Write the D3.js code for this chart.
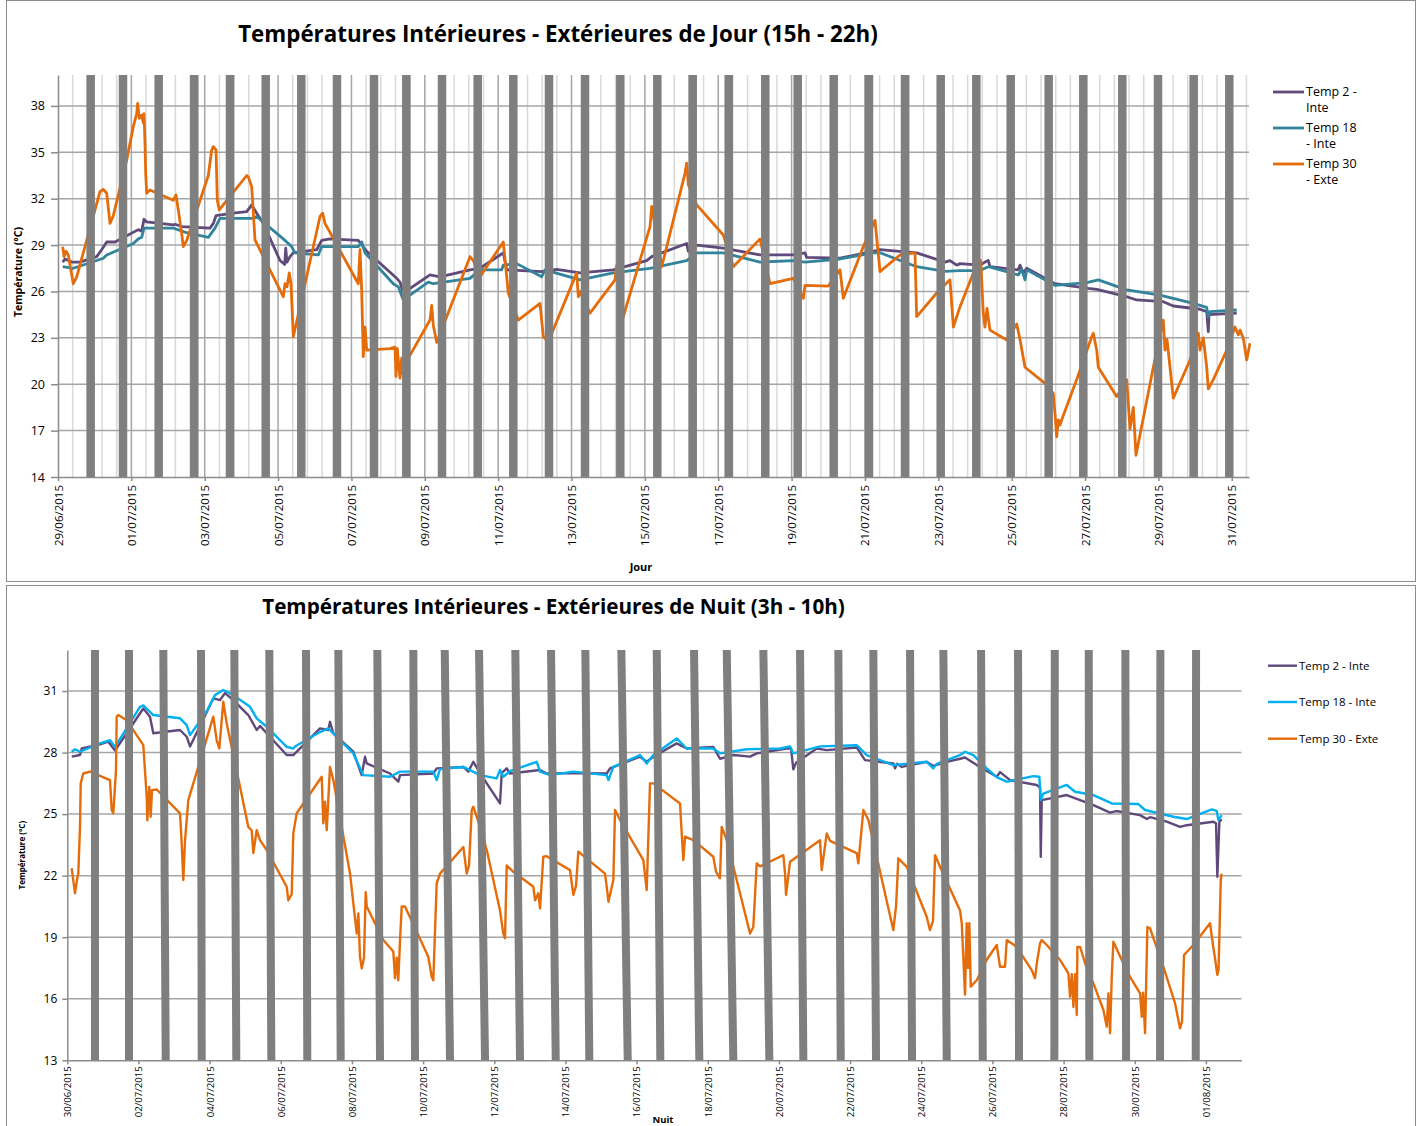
<!DOCTYPE html>
<html>
<head>
<meta charset="utf-8">
<script src="https://cdn.jsdelivr.net/npm/d3@7"></script>
<style>
  body { margin: 0; background: #fff; }
  svg { display: block; }
  text { font-family: "Open Sans", "Noto Sans", sans-serif; fill: #000; }
</style>
</head>
<body>
<svg id="chart" width="1421" height="1126"></svg>
<script>
// ---- data: [days since first date, °C] ----
// Jour (15h - 22h), days counted from 29/06/2015
const dayTemp2 = [[0.128,27.9],[0.19,28.1],[0.373,27.9],[0.6,27.9],[1.055,28.25],[1.19,28.7],[1.328,29.2],[1.554,29.2],[2.19,30.0],[2.28,29.9],[2.345,30.67],[2.418,30.5],[3.143,30.3],[3.19,30.35],[3.372,30.2],[4.144,30.1],[4.234,30.4],[4.308,30.9],[4.779,31.06],[5.145,31.16],[5.281,31.6],[5.417,31.06],[5.597,30.4],[6.052,28.0],[6.18,27.75],[6.208,28.8],[6.243,27.9],[6.325,28.25],[6.415,28.5],[7.053,28.7],[7.189,29.3],[7.415,29.4],[8.187,29.3],[8.416,28.6],[9.234,26.85],[9.324,26.6],[9.414,25.9],[10.142,27.07],[10.414,26.95],[11.232,27.4],[11.505,27.5],[12.05,28.36],[12.14,28.5],[12.233,27.4],[13.187,27.28],[13.596,27.43],[14.231,27.2],[15.139,27.4],[16.05,28.0],[16.186,28.25],[17.14,29.1],[17.184,28.6],[17.413,29.0],[18.138,28.8],[19.139,28.36],[20.046,28.36],[20.365,28.5],[20.411,28.2],[21.32,28.15],[22.227,28.6],[22.41,28.7],[23.41,28.5],[24.182,27.9],[24.318,28.0],[24.5,27.7],[24.59,27.8],[25.136,27.7],[25.272,27.9],[25.363,28.0],[25.409,27.6],[26.18,27.4],[26.227,27.7],[26.317,27.2],[26.41,27.5],[27.18,26.5],[28.089,26.2],[28.318,26.14],[29.136,25.66],[29.408,25.45],[30.134,25.34],[30.406,25.06],[31.134,24.85],[31.317,24.7],[31.36,23.4],[31.38,24.5],[32.135,24.6]];
const dayTemp18 = [[0.128,27.6],[0.417,27.5],[1.055,28.0],[1.235,28.15],[1.328,28.36],[2.053,29.1],[2.189,29.4],[2.282,29.5],[2.345,30.1],[3.143,30.1],[3.509,29.8],[4.098,29.5],[4.28,30.1],[4.417,30.73],[5.324,30.73],[5.417,30.85],[6.142,29.4],[6.235,29.2],[6.371,28.9],[6.461,28.5],[7.097,28.36],[7.189,28.9],[8.187,28.9],[8.28,29.2],[8.37,28.5],[9.141,26.5],[9.277,26.3],[9.414,25.45],[10.095,26.6],[10.232,26.5],[11.232,26.85],[11.505,27.4],[12.096,27.4],[12.14,27.7],[12.505,27.8],[13.187,26.95],[13.277,27.4],[14.231,26.75],[15.139,27.2],[16.14,27.5],[17.14,28.0],[17.413,28.5],[18.138,28.5],[19.139,27.9],[20.046,28.0],[20.365,27.9],[21.32,28.1],[22.227,28.5],[22.41,28.5],[23.41,27.6],[24.182,27.3],[24.59,27.35],[25.136,27.35],[25.272,27.5],[25.363,27.6],[26.18,27.07],[26.272,27.43],[26.363,26.75],[26.41,27.4],[27.18,26.4],[28.045,26.57],[28.361,26.75],[29.136,26.1],[30.044,25.77],[30.951,25.23],[31.317,24.97],[31.36,24.37],[31.407,24.7],[32.135,24.8]];
const dayTemp30 = [[0.128,28.9],[0.164,28.25],[0.218,28.6],[0.281,28.36],[0.417,26.5],[0.51,26.95],[1.009,31.27],[1.145,32.45],[1.235,32.6],[1.328,32.35],[1.418,30.4],[1.508,30.9],[1.873,34.5],[2.053,36.66],[2.146,37.5],[2.173,38.17],[2.216,37.2],[2.282,37.4],[2.326,36.9],[2.345,37.5],[2.372,35.6],[2.391,33.64],[2.418,32.35],[2.508,32.56],[3.143,31.9],[3.217,32.24],[3.28,31.27],[3.372,29.76],[3.416,28.9],[3.509,29.3],[4.098,33.5],[4.19,35.15],[4.234,35.37],[4.308,35.15],[4.343,31.9],[4.397,31.27],[4.471,31.5],[5.145,33.5],[5.188,33.4],[5.281,32.78],[5.371,29.33],[5.597,28.25],[6.142,25.66],[6.189,26.5],[6.243,26.3],[6.306,27.2],[6.352,26.5],[6.415,23.07],[7.143,30.85],[7.217,31.06],[7.279,30.4],[8.187,26.5],[8.233,28.7],[8.279,26.1],[8.323,21.78],[8.37,23.7],[8.416,22.2],[9.051,22.3],[9.188,22.4],[9.215,20.5],[9.25,22.3],[9.324,20.4],[9.37,21.7],[9.414,20.6],[9.46,21.3],[10.142,24.15],[10.188,25.1],[10.232,23.8],[10.324,22.7],[11.232,28.25],[11.322,28.0],[11.505,26.95],[12.14,29.2],[12.276,25.9],[12.549,24.15],[13.141,25.23],[13.231,23.07],[13.367,22.75],[14.141,27.2],[14.185,25.66],[14.231,26.0],[14.504,24.6],[15.185,26.75],[15.232,27.7],[15.412,24.37],[16.14,30.2],[16.186,31.5],[16.459,27.6],[17.094,33.64],[17.14,34.3],[17.184,32.9],[17.413,31.6],[18.138,29.65],[18.411,27.6],[19.139,29.4],[19.411,26.5],[20.046,26.85],[20.319,25.56],[20.365,26.4],[21.0,26.35],[21.32,27.4],[21.41,25.56],[21.955,28.9],[22.274,30.6],[22.41,27.28],[22.955,28.36],[23.364,28.5],[23.41,24.37],[23.956,25.9],[24.318,26.75],[24.41,23.7],[24.59,25.0],[24.954,27.2],[25.155,28.0],[25.226,24.6],[25.272,23.7],[25.327,24.9],[25.409,23.5],[25.865,22.86],[26.137,23.9],[26.227,22.9],[26.363,21.1],[26.908,20.06],[27.135,19.4],[27.181,18.1],[27.227,16.6],[27.271,17.7],[27.317,17.36],[27.364,17.7],[27.773,20.3],[28.182,23.07],[28.226,23.3],[28.318,22.2],[28.361,21.1],[28.863,19.2],[29.135,20.3],[29.179,18.76],[29.226,17.1],[29.316,18.5],[29.389,15.4],[29.861,21.1],[30.134,24.15],[30.18,22.2],[30.235,22.9],[30.406,19.1],[30.862,21.57],[31.088,23.3],[31.134,22.2],[31.225,23.0],[31.317,21.1],[31.36,19.7],[31.497,20.3],[31.862,22.2],[32.088,23.7],[32.178,23.2],[32.225,23.5],[32.315,22.97],[32.407,21.57],[32.497,22.65]];
const dayBars = [0.891,1.772,2.745,3.716,4.689,5.663,6.633,7.606,8.615,9.496,10.469,11.442,12.413,13.386,14.368,15.33,16.339,17.304,18.285,19.283,20.166,21.148,22.11,23.092,24.065,25.036,25.973,27.009,27.953,29.016,29.989,30.962,31.933];
const dayTicksY = [14,17,20,23,26,29,32,35,38];

// Nuit (3h - 10h), days counted from 30/06/2015
const nightTemp2 = [[0.124,27.8],[0.357,27.88],[0.405,28.2],[0.919,28.4],[1.152,28.53],[1.341,28.1],[2.136,30.15],[2.324,29.75],[2.417,28.94],[3.168,29.1],[3.356,28.77],[3.449,28.3],[4.103,30.64],[4.292,30.56],[4.432,30.9],[4.666,30.56],[5.087,29.83],[5.323,29.1],[5.416,29.3],[5.604,28.94],[6.166,27.88],[6.352,27.88],[7.102,29.18],[7.336,29.1],[7.383,29.5],[7.476,28.94],[8.038,28.04],[8.274,26.9],[8.367,27.8],[8.415,27.47],[9.07,26.98],[9.303,26.58],[9.351,26.9],[10.287,26.98],[10.382,27.23],[11.13,27.3],[11.27,27.07],[11.411,27.55],[11.552,27.15],[11.788,26.5],[12.161,25.52],[12.209,27.0],[12.35,27.23],[12.442,26.98],[13.286,27.15],[13.474,26.98],[14.317,27.0],[15.16,26.98],[15.253,27.23],[16.096,27.8],[16.284,27.55],[16.47,27.8],[17.127,28.45],[17.408,28.2],[18.156,28.28],[18.344,27.7],[18.718,27.88],[19.188,27.8],[19.376,27.96],[20.219,28.2],[20.34,28.2],[20.405,27.18],[20.48,27.5],[21.062,28.2],[21.343,28.12],[22.186,28.25],[22.419,27.63],[23.215,27.47],[23.263,27.23],[23.319,27.45],[23.451,27.3],[24.153,27.55],[24.339,27.35],[24.716,27.55],[25.09,27.7],[25.23,27.76],[25.371,27.6],[25.652,27.3],[26.121,26.82],[26.214,27.05],[26.495,26.66],[27.245,26.42],[27.338,26.3],[27.358,22.92],[27.386,25.68],[28.089,25.93],[28.837,25.44],[29.306,25.07],[29.475,25.15],[30.149,24.95],[30.338,24.76],[30.43,24.85],[30.9,24.63],[31.273,24.38],[31.461,24.46],[32.209,24.63],[32.285,24.55],[32.321,21.95],[32.378,24.63],[32.445,24.74]];
const nightTemp18 = [[0.124,28.04],[0.216,28.16],[0.357,28.04],[0.919,28.45],[1.2,28.6],[1.341,28.28],[2.043,30.23],[2.136,30.3],[2.417,29.83],[3.168,29.67],[3.356,29.34],[3.449,28.85],[3.918,30.0],[4.151,30.8],[4.384,31.05],[4.666,30.8],[5.135,30.23],[5.323,29.67],[5.604,29.26],[6.166,28.28],[6.352,28.2],[6.4,28.3],[7.102,29.0],[7.336,29.18],[8.038,27.96],[8.319,26.9],[9.07,26.82],[9.351,27.07],[10.287,27.07],[10.382,26.66],[10.475,27.2],[11.13,27.3],[11.6,26.9],[12.068,26.74],[12.161,27.15],[12.254,26.82],[12.442,27.1],[13.193,27.55],[13.286,27.07],[13.567,26.9],[14.222,27.07],[15.16,26.9],[15.208,26.66],[15.346,27.3],[16.096,27.88],[16.284,27.47],[16.47,27.88],[17.127,28.69],[17.408,28.2],[18.156,28.2],[18.344,27.96],[19.095,28.16],[20.031,28.2],[20.312,28.3],[20.405,27.96],[21.155,28.3],[22.186,28.36],[22.467,27.88],[23.215,27.39],[24.153,27.55],[24.339,27.23],[24.434,27.45],[25.09,27.88],[25.23,28.04],[25.464,27.88],[25.839,27.23],[26.12,26.8],[26.401,26.58],[27.15,26.85],[27.318,26.82],[27.358,25.68],[27.431,26.0],[28.089,26.42],[28.322,26.09],[28.837,25.93],[29.354,25.52],[30.102,25.49],[30.29,25.2],[31.086,24.87],[31.461,24.76],[32.164,25.23],[32.304,25.16],[32.349,24.71],[32.445,24.95]];
const nightTemp30 = [[0.124,22.36],[0.216,21.14],[0.273,21.8],[0.309,22.1],[0.357,24.38],[0.377,26.5],[0.45,26.98],[0.638,27.07],[1.2,26.66],[1.248,25.2],[1.293,25.04],[1.369,27.15],[1.388,29.75],[1.433,29.83],[1.669,29.58],[2.136,28.36],[2.232,25.85],[2.248,24.7],[2.305,26.33],[2.344,24.87],[2.381,26.17],[2.513,26.2],[3.168,25.04],[3.215,23.57],[3.26,21.79],[3.308,23.7],[3.401,25.68],[4.103,29.75],[4.199,28.6],[4.272,28.2],[4.384,30.48],[4.48,29.42],[4.854,26.33],[5.087,24.38],[5.183,24.2],[5.228,23.1],[5.323,24.22],[5.416,23.73],[5.604,23.25],[6.166,21.46],[6.211,20.8],[6.307,21.1],[6.352,24.06],[6.447,25.04],[7.15,26.82],[7.195,24.55],[7.243,25.6],[7.291,24.22],[7.383,27.3],[7.476,26.66],[7.946,22.1],[8.134,19.18],[8.18,20.16],[8.226,18.05],[8.274,17.48],[8.339,18.0],[8.387,21.2],[8.415,20.5],[8.881,18.86],[9.162,18.3],[9.21,17.0],[9.258,18.0],[9.303,16.9],[9.351,18.86],[9.399,20.5],[9.491,20.5],[10.146,18.05],[10.241,17.07],[10.287,16.9],[10.335,19.35],[10.382,21.63],[10.475,22.1],[11.13,23.4],[11.178,22.76],[11.225,22.1],[11.29,22.5],[11.366,25.2],[11.411,25.36],[11.6,24.38],[11.788,23.25],[12.161,20.3],[12.254,19.18],[12.302,18.95],[12.35,22.5],[12.527,22.2],[13.098,21.46],[13.146,20.8],[13.238,21.14],[13.286,20.4],[13.378,22.92],[13.474,22.95],[14.129,22.27],[14.222,21.06],[14.297,21.5],[14.362,23.17],[15.112,22.1],[15.16,21.46],[15.208,20.73],[15.346,21.79],[15.394,25.2],[15.535,24.71],[16.189,22.76],[16.284,21.3],[16.377,26.5],[16.47,26.5],[17.22,25.52],[17.268,24.06],[17.313,22.76],[17.361,23.9],[17.594,23.73],[18.156,22.92],[18.231,22.2],[18.344,21.87],[18.392,24.38],[18.533,23.73],[18.907,21.14],[19.188,19.18],[19.28,19.5],[19.376,22.6],[19.469,22.45],[20.124,23.0],[20.172,22.1],[20.2,21.06],[20.312,22.68],[21.155,23.73],[21.202,22.27],[21.343,24.06],[21.436,23.7],[22.186,23.1],[22.232,22.6],[22.373,25.2],[22.513,24.71],[23.215,19.35],[23.291,20.5],[23.356,22.85],[23.592,22.43],[24.153,20.0],[24.243,19.35],[24.33,19.8],[24.388,23.0],[24.528,22.43],[25.09,20.3],[25.138,19.68],[25.23,16.2],[25.277,19.68],[25.314,17.5],[25.351,19.68],[25.391,16.59],[25.559,16.9],[25.84,17.9],[26.121,18.62],[26.214,17.56],[26.355,17.56],[26.402,18.86],[26.683,18.53],[27.104,17.4],[27.197,17.0],[27.253,17.8],[27.338,18.7],[27.386,18.86],[27.527,18.62],[27.901,17.89],[28.135,17.24],[28.182,16.1],[28.23,17.2],[28.276,15.6],[28.323,17.2],[28.371,15.2],[28.388,18.53],[28.464,18.53],[28.604,17.73],[28.838,16.75],[29.119,15.45],[29.214,14.64],[29.259,16.26],[29.306,14.32],[29.354,17.07],[29.399,18.78],[29.635,17.89],[29.868,17.07],[30.149,16.26],[30.197,15.12],[30.233,16.3],[30.29,14.32],[30.355,19.5],[30.43,19.43],[30.804,17.56],[31.133,15.78],[31.226,14.96],[31.273,14.56],[31.329,14.9],[31.385,18.13],[31.647,18.62],[32.116,19.68],[32.192,18.7],[32.256,17.97],[32.321,17.16],[32.355,17.4],[32.417,21.79],[32.44,22.1]];
const nightBars = [[0.778,0.778],[1.734,1.734],[2.698,2.766],[3.758,3.777],[4.694,4.75],[5.677,5.734],[6.709,6.745],[7.617,7.684],[8.713,8.789],[9.725,9.772],[10.607,10.756],[11.571,11.74],[12.591,12.723],[13.595,13.727],[14.559,14.671],[15.571,15.75],[16.566,16.667],[17.614,17.763],[18.533,18.718],[19.562,19.73],[20.593,20.686],[21.67,21.737],[22.653,22.729],[23.685,23.741],[24.621,24.716],[25.681,25.728],[26.72,26.748],[27.752,27.74],[28.707,28.724],[29.736,29.756],[30.72,30.711],[31.723,31.714]];
const nightTicksY = [13,16,19,22,25,28,31];

const dayStart = new Date(2015, 5, 29);
const nightStart = new Date(2015, 5, 30);
const toDate = (base, d) => new Date(base.getTime() + d * 864e5);
const fmt = d3.timeFormat("%d/%m/%Y");

const svg = d3.select("#chart");

function fitText(sel, width) {
  const len = sel.node().getComputedTextLength();
  const size = parseFloat(sel.attr("font-size"));
  sel.attr("font-size", size * width / len);
}

function drawPanel(p) {
  const g = svg.append("g");
  g.append("rect")
    .attr("x", p.frame[0]).attr("y", p.frame[1])
    .attr("width", p.frame[2]).attr("height", p.frame[3])
    .attr("fill", "#fff").attr("stroke", "#8c8c8c").attr("stroke-width", 1);

  const x = d3.scaleTime()
    .domain([toDate(p.base, 0), toDate(p.base, p.xEnd)])
    .range([p.left, p.right]);
  const y = d3.scaleLinear().domain(p.yDomain).range([p.bottom, p.top]);
  const X = d => x(toDate(p.base, d));

  g.append("clipPath").attr("id", p.id + "-clip")
    .append("rect")
    .attr("x", p.left).attr("y", p.top - 2)
    .attr("width", p.right - p.left + 2).attr("height", p.bottom - p.top + 4);

  // vertical grid (minor + major)
  if (p.minorStep) {
    const n = Math.floor(p.xEnd / p.minorStep);
    g.append("g").selectAll("line")
      .data(d3.range(1, n + 1))
      .join("line")
      .attr("x1", i => X(i * p.minorStep)).attr("x2", i => X(i * p.minorStep))
      .attr("y1", p.top).attr("y2", p.bottom)
      .attr("stroke", i => i % 5 === 0 ? "#a6a6a6" : "#d9d9d9")
      .attr("stroke-width", 1.5);
  }

  // horizontal grid
  g.append("g").selectAll("line")
    .data(p.yTicks.slice(1))
    .join("line")
    .attr("x1", p.left).attr("x2", p.right)
    .attr("y1", d => y(d)).attr("y2", d => y(d))
    .attr("stroke", "#a6a6a6").attr("stroke-width", 1.5);

  // axes
  const xTicks = d3.range(0, p.xEnd, 2).map(d => toDate(p.base, d));
  const xAxis = g.append("g")
    .attr("transform", `translate(0,${p.bottom})`)
    .call(d3.axisBottom(x).tickValues(xTicks).tickFormat(fmt).tickSize(4).tickSizeOuter(0));
  xAxis.selectAll("text")
    .attr("transform", "rotate(-90)")
    .attr("text-anchor", "end")
    .attr("x", -p.xLabelGap).attr("y", 0).attr("dy", "0.35em")
    .attr("font-size", p.xTickSize).attr("font-family", null);

  const yAxis = g.append("g")
    .attr("transform", `translate(${p.left},0)`)
    .call(d3.axisLeft(y).tickValues(p.yTicks).tickSize(p.yTickLen).tickSizeOuter(0).tickPadding(p.yPad));
  yAxis.selectAll("text").attr("font-size", p.yTickSize).attr("font-family", null);

  [xAxis, yAxis].forEach(a => {
    a.select(".domain").attr("stroke", "#8c8c8c").attr("stroke-width", 1.5);
    a.selectAll(".tick line").attr("stroke", "#8c8c8c").attr("stroke-width", 1.5);
  });

  // series
  const line = d3.line().x(d => X(d[0])).y(d => y(d[1]));
  const plot = g.append("g").attr("clip-path", `url(#${p.id}-clip)`);
  p.series.forEach(s => {
    plot.append("path")
      .datum(s.values)
      .attr("fill", "none")
      .attr("stroke", s.color)
      .attr("stroke-width", p.lineWidth)
      .attr("stroke-linejoin", "round")
      .attr("d", line);
  });

  // grey bars drawn over the curves
  g.append("g").selectAll("line")
    .data(p.bars)
    .join("line")
    .attr("x1", d => X(d[0])).attr("x2", d => X(d[1]))
    .attr("y1", y(p.yDomain[1])).attr("y2", y(p.yDomain[0]))
    .attr("stroke", "#7f7f7f")
    .attr("stroke-width", p.barWidth);

  // titles
  const title = g.append("text")
    .attr("x", p.titleX).attr("y", p.titleY)
    .attr("text-anchor", "middle")
    .attr("font-weight", "bold")
    .attr("font-size", 20)
    .text(p.title);
  fitText(title, p.titleW);

  g.append("text")
    .attr("transform", `translate(${p.yTitleX},${(p.top + p.bottom) / 2 + p.yTitleShift}) rotate(-90)`)
    .attr("text-anchor", "middle")
    .attr("font-weight", "bold")
    .attr("font-size", p.yTitleSize)
    .text("Température (°C)");

  g.append("text")
    .attr("x", p.xTitleX).attr("y", p.xTitleY)
    .attr("text-anchor", "middle")
    .attr("font-weight", "bold")
    .attr("font-size", p.xTitleSize)
    .text(p.xTitle);

  // legend
  const lg = g.append("g");
  p.series.forEach((s, i) => {
    const ly = p.legend.y[i];
    lg.append("line")
      .attr("x1", p.legend.x).attr("x2", p.legend.x + p.legend.len)
      .attr("y1", ly).attr("y2", ly)
      .attr("stroke", s.color).attr("stroke-width", p.lineWidth);
    const t = lg.append("text")
      .attr("x", p.legend.x + p.legend.len + 2)
      .attr("y", ly)
      .attr("font-size", p.legend.size);
    s.label.forEach((ln, j) => {
      t.append("tspan")
        .attr("x", p.legend.x + p.legend.len + 2)
        .attr("y", ly + j * p.legend.lineH)
        .attr("dy", "0.35em")
        .text(ln);
    });
  });
}

drawPanel({
  id: "jour",
  frame: [6.5, 0.5, 1409, 581],
  base: dayStart, xEnd: 32.47,
  left: 58, right: 1249, top: 75, bottom: 477,
  yDomain: [14, 40], yTicks: dayTicksY,
  minorStep: 0.4,
  xTickSize: 11.5, xLabelGap: 8, yTickSize: 12.5, yTickLen: 7, yPad: 6,
  lineWidth: 2.8, barWidth: 8.5,
  bars: dayBars.map(d => [d, d]),
  series: [
    { values: dayTemp2, color: "#604a7b", label: ["Temp 2 -", "Inte"] },
    { values: dayTemp18, color: "#31849b", label: ["Temp 18", "- Inte"] },
    { values: dayTemp30, color: "#e46c0a", label: ["Temp 30", "- Exte"] }
  ],
  title: "Températures Intérieures - Extérieures de Jour (15h - 22h)",
  titleX: 558, titleY: 42, titleW: 640,
  yTitleX: 22, yTitleShift: -4, yTitleSize: 10.5,
  xTitle: "Jour", xTitleX: 641, xTitleY: 571, xTitleSize: 11,
  legend: { x: 1273, len: 31, y: [92, 128, 164], lineH: 16, size: 12.5 }
});

drawPanel({
  id: "nuit",
  frame: [6.5, 585.5, 1409, 545],
  base: nightStart, xEnd: 33,
  left: 67.3, right: 1241.5, top: 650, bottom: 1060.3,
  yDomain: [13, 33], yTicks: nightTicksY,
  minorStep: null,
  xTickSize: 9.6, xLabelGap: 6, yTickSize: 12, yTickLen: 5, yPad: 5,
  lineWidth: 2.4, barWidth: 8,
  bars: nightBars,
  series: [
    { values: nightTemp2, color: "#5f497a", label: ["Temp 2 - Inte"] },
    { values: nightTemp18, color: "#00b0f0", label: ["Temp 18 - Inte"] },
    { values: nightTemp30, color: "#e46c0a", label: ["Temp 30 - Exte"] }
  ],
  title: "Températures Intérieures - Extérieures de Nuit (3h - 10h)",
  titleX: 553.5, titleY: 614, titleW: 583,
  yTitleX: 25, yTitleShift: 0, yTitleSize: 8,
  xTitle: "Nuit", xTitleX: 663, xTitleY: 1123, xTitleSize: 9.5,
  legend: { x: 1268, len: 29, y: [665.7, 702, 738.7], lineH: 0, size: 11.5 }
});
</script>
</body>
</html>
